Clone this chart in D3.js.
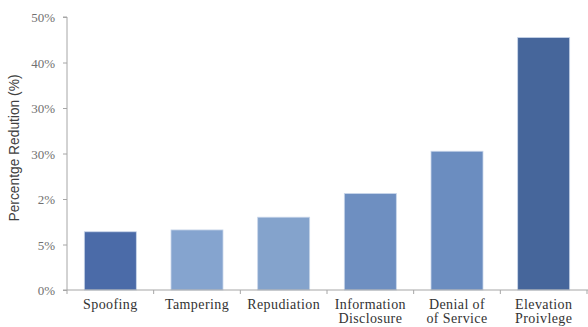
<!DOCTYPE html>
<html>
<head>
<meta charset="utf-8">
<script src="https://cdn.jsdelivr.net/npm/d3@7"></script>
<style>
  body { margin: 0; background: #fff; }
  svg { display: block; }
</style>
</head>
<body>
<svg></svg>
<script>
// chart data
var categories = [
  ["Spoofing"],
  ["Tampering"],
  ["Repudiation"],
  ["Information", "Disclosure"],
  ["Denial of", "of Service"],
  ["Elevation", "Proivlege"]
];
var values = [12.8, 13.2, 16.0, 21.2, 30.5, 55.5];
var barColors = ["#4b6ba8", "#85a4cf", "#84a3cc", "#6e8fc1", "#6b8dc0", "#46669b"];
var yTicks = [0, 10, 20, 30, 40, 50, 60];
var yTickLabels = ["0%", "5%", "2%", "30%", "30%", "40%", "50%"];

var width = 588;
var height = 327;
var margin = { top: 17, right: 1, bottom: 37, left: 67 };
var serif = "'Liberation Serif', 'Times New Roman', serif";

var svg = d3.select("svg").attr("width", width).attr("height", height);

var x = d3
  .scaleBand()
  .domain(d3.range(categories.length))
  .range([margin.left, width - margin.right])
  .paddingInner(0.4)
  .paddingOuter(0.2);

var y = d3
  .scaleLinear()
  .domain([0, 60])
  .range([height - margin.bottom, margin.top]);

// y axis
var yAxis = d3
  .axisLeft(y)
  .tickValues(yTicks)
  .tickSize(4)
  .tickFormat(function (d, i) {
    return yTickLabels[i];
  });

var gy = svg
  .append("g")
  .attr("transform", "translate(" + margin.left + ",0)")
  .call(yAxis);
gy.select(".domain").attr("stroke", "#a6a6a6").attr("d", "M-4," + y(60) + "H0V" + y(0));
gy.selectAll(".tick line").attr("stroke", "#a6a6a6");
gy.selectAll(".tick text")
  .attr("x", -12)
  .attr("dy", "0.35em")
  .style("font-family", serif)
  .style("font-size", "13px")
  .attr("fill", "#707070");

// bars
svg
  .append("g")
  .selectAll("rect")
  .data(values)
  .enter()
  .append("rect")
  .attr("x", function (d, i) {
    return x(i);
  })
  .attr("y", function (d) {
    return y(d);
  })
  .attr("width", x.bandwidth())
  .attr("height", function (d) {
    return y(0) - y(d);
  })
  .attr("fill", function (d, i) {
    return barColors[i];
  })
  .attr("stroke", "#c9d6ea")
  .attr("stroke-width", 0.8);

// x axis
var step = x.step();
var gx = svg.append("g").attr("transform", "translate(0," + y(0) + ")");
gx.append("line")
  .attr("x1", margin.left - 4)
  .attr("x2", width)
  .attr("stroke", "#a6a6a6");
gx.selectAll(".xtick")
  .data(d3.range(categories.length + 1))
  .enter()
  .append("line")
  .attr("class", "xtick")
  .attr("x1", function (d) {
    return margin.left + d * step;
  })
  .attr("x2", function (d) {
    return margin.left + d * step;
  })
  .attr("y1", 0)
  .attr("y2", 4)
  .attr("stroke", "#a6a6a6");

var labels = gx
  .selectAll(".xlabel")
  .data(categories)
  .enter()
  .append("text")
  .attr("class", "xlabel")
  .attr("text-anchor", "middle")
  .attr("transform", function (d, i) {
    return "translate(" + (x(i) + x.bandwidth() / 2) + ",0)";
  })
  .style("font-family", serif)
  .style("font-size", "14px")
  .style("letter-spacing", "0.4px")
  .attr("fill", "#333");
labels
  .selectAll("tspan")
  .data(function (d) {
    return d;
  })
  .enter()
  .append("tspan")
  .attr("x", 0)
  .attr("y", function (d, i) {
    return 19 + i * 14;
  })
  .text(function (d) {
    return d;
  });

// y axis title
svg
  .append("text")
  .attr("transform", "translate(19,148)rotate(-90)")
  .attr("text-anchor", "middle")
  .attr("textLength", 147)
  .attr("lengthAdjust", "spacingAndGlyphs")
  .style("font-family", "'Liberation Sans', Arial, sans-serif")
  .style("font-size", "15px")
  .attr("fill", "#404040")
  .text("Percentge Redution (%)");
</script>
</body>
</html>
